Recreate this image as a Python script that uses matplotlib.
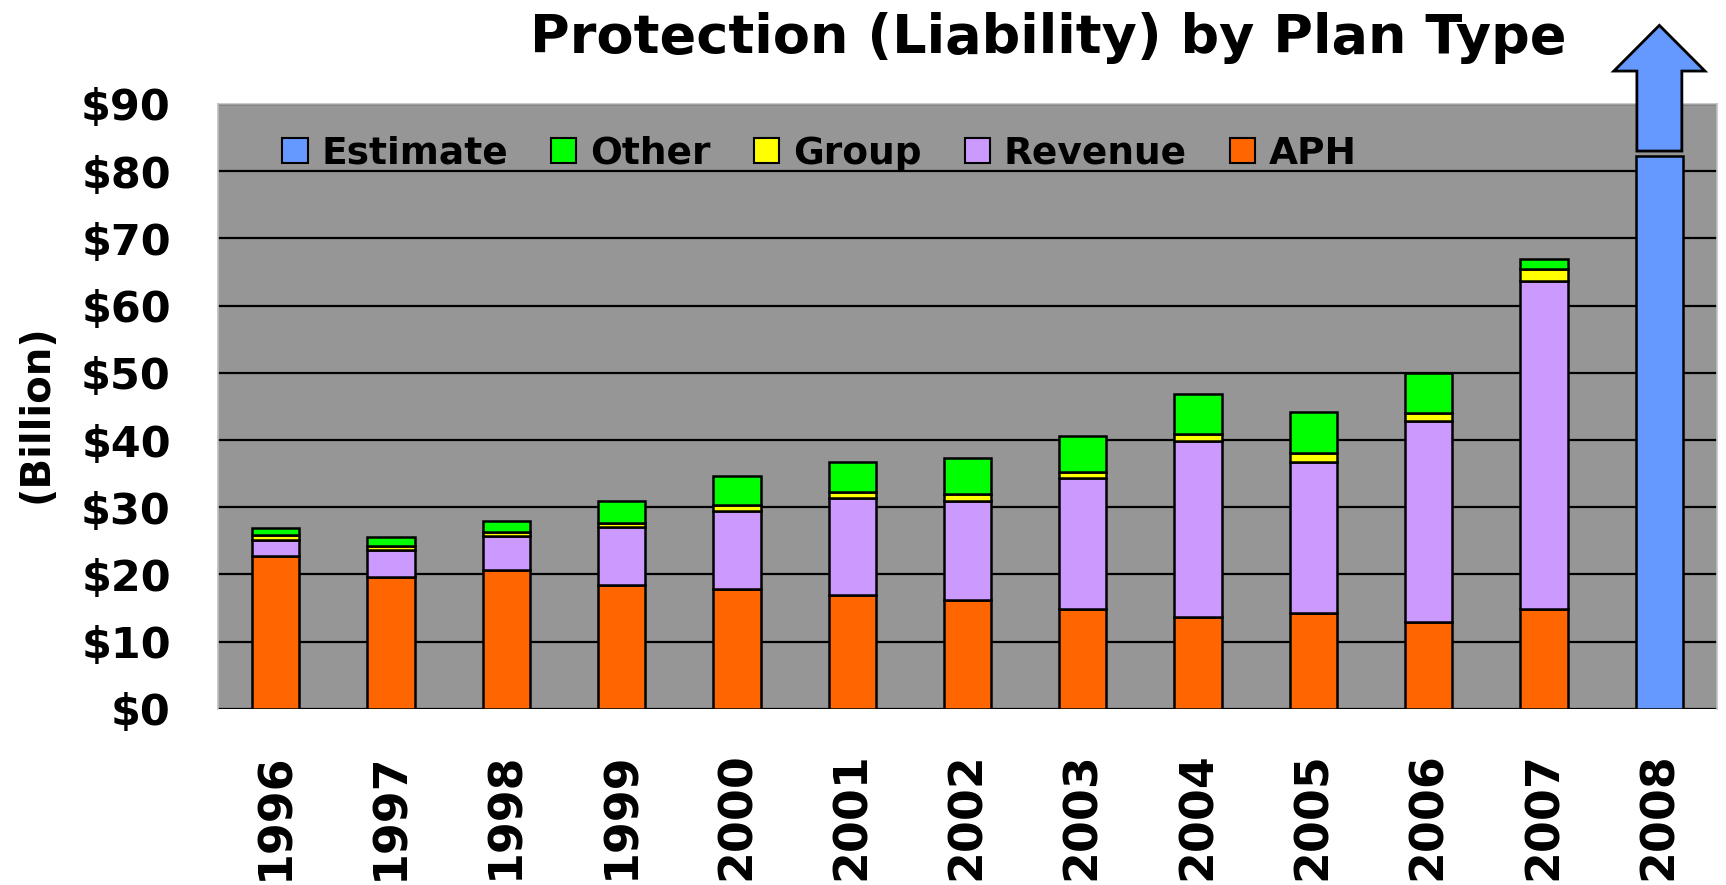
#!/usr/bin/env python3
"""Protection (liability) by plan type, stacked bars with 2008 estimate."""
import numpy as np
from matplotlib import pyplot as plt
from matplotlib.patches import Patch

years = ["1996", "1997", "1998", "1999", "2000", "2001", "2002",
         "2003", "2004", "2005", "2006", "2007", "2008"]

# $ billion (2008 has only the estimate)
aph = [22.7, 19.6, 20.7, 18.5, 17.9, 17.0, 16.2, 14.9, 13.7, 14.3, 12.9, 14.8, 0]
revenue = [2.5, 4.1, 5.0, 8.6, 11.6, 14.4, 14.7, 19.4, 26.2, 22.4, 29.9, 48.9, 0]
group = [0.6, 0.6, 0.6, 0.6, 0.9, 0.9, 1.1, 1.0, 1.0, 1.4, 1.2, 1.8, 0]
other = [1.1, 1.2, 1.7, 3.3, 4.2, 4.4, 5.3, 5.3, 5.9, 6.1, 6.0, 1.4, 0]
estimate = [0, 0, 0, 0, 0, 0, 0, 0, 0, 0, 0, 0, 82.3]

# arrow sitting on top of the estimate bar: start and tip
arrow_start = 83.0
arrow_tip = 101.7

yticks = [0, 10, 20, 30, 40, 50, 60, 70, 80, 90]
ytick_labels = ["$0", "$10", "$20", "$30", "$40", "$50", "$60", "$70", "$80", "$90"]

c_aph = "#FF6600"
c_rev = "#CC99FF"
c_grp = "#FFFF00"
c_oth = "#00FF00"
c_est = "#6699FF"

fig = plt.figure(figsize=(17.26, 8.85), dpi=100)
ax = fig.add_axes([0.1263, 0.199, 0.8685, 0.6835])
ax.set_facecolor("#969696")

x = np.arange(len(years))
w = 0.41
kw = dict(width=w, edgecolor="black", linewidth=1.8, zorder=3)

aph = np.array(aph)
revenue = np.array(revenue)
group = np.array(group)
other = np.array(other)

ax.bar(x[:-1], aph[:-1], color=c_aph, **kw)
ax.bar(x[:-1], revenue[:-1], bottom=aph[:-1], color=c_rev, **kw)
ax.bar(x[:-1], group[:-1], bottom=(aph + revenue)[:-1], color=c_grp, **kw)
ax.bar(x[:-1], other[:-1], bottom=(aph + revenue + group)[:-1], color=c_oth, **kw)
ax.bar(x[-1], estimate[-1], color=c_est, **kw)

ax.arrow(x[-1], arrow_start, 0, arrow_tip - arrow_start, width=0.39,
         head_width=0.79, head_length=6.8, length_includes_head=True,
         fc=c_est, ec="black", linewidth=2, clip_on=False, zorder=4)

ax.set_xlim(-0.5, len(years) - 0.5)
ax.set_ylim(0, 90)
ax.set_yticks(yticks)
ax.set_yticklabels(ytick_labels)
ax.set_xticks(x)
ax.set_xticklabels(years, rotation=90, va="top")

ax.yaxis.grid(True, color="black", linewidth=1.6)
ax.set_axisbelow(True)
ax.tick_params(axis="y", length=0, pad=34, labelsize=31)
ax.tick_params(axis="x", length=0, pad=31, labelsize=33)
for lab in ax.get_xticklabels() + ax.get_yticklabels():
    lab.set_fontweight("bold")

for side in ["top", "left", "right"]:
    ax.spines[side].set_color("#c0c0c0")
    ax.spines[side].set_linewidth(1.2)
ax.spines["bottom"].set_visible(False)

handles = [
    Patch(facecolor=c_est, edgecolor="black", linewidth=1.5, label="Estimate"),
    Patch(facecolor=c_oth, edgecolor="black", linewidth=1.5, label="Other"),
    Patch(facecolor=c_grp, edgecolor="black", linewidth=1.5, label="Group"),
    Patch(facecolor=c_rev, edgecolor="black", linewidth=1.5, label="Revenue"),
    Patch(facecolor=c_aph, edgecolor="black", linewidth=1.5, label="APH"),
]
ax.legend(handles=handles, loc="upper left", bbox_to_anchor=(0.028, 0.985),
          ncol=5, frameon=False, prop={"weight": "bold", "size": 27},
          handlelength=0.67, handleheight=0.67, handletextpad=0.37,
          columnspacing=1.15, borderaxespad=0.2)

fig.text(0.6075, 0.940, "Protection (Liability) by Plan Type", ha="center",
         va="baseline", fontsize=39, fontweight="bold")
fig.text(0.021, 1 - 414 / 885, "(Billion)", rotation=90, ha="center",
         va="center", fontsize=29, fontweight="bold")

fig.savefig("out.png", dpi=100)
